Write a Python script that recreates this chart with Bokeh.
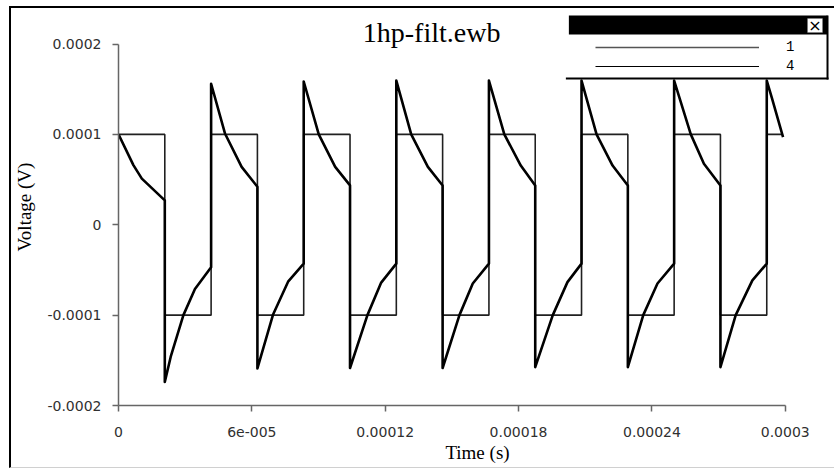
from bokeh.plotting import figure
from bokeh.models import Range1d, FixedTicker, Legend, LegendItem, BoxAnnotation, Label
from bokeh.embed import file_html
from bokeh.resources import INLINE

# ---------------- data ----------------
x_ticks = [0, 6e-5, 1.2e-4, 1.8e-4, 2.4e-4, 3e-4]
x_tick_labels = ["0", "6e-005", "0.00012", "0.00018", "0.00024", "0.0003"]
y_ticks = [-2e-4, -1e-4, 0, 1e-4, 2e-4]
y_tick_labels = ["-0.0002", "-0.0001", "0", "0.0001", "0.0002"]

# trace 1: square-wave input (step times and levels)
sq_t = [0, 2.083e-5, 4.167e-5, 6.25e-5, 8.333e-5, 1.0417e-4, 1.25e-4, 1.4583e-4,
        1.6667e-4, 1.875e-4, 2.0833e-4, 2.2917e-4, 2.5e-4, 2.7083e-4, 2.9167e-4, 2.99e-4]
sq_v = [1e-4, -1e-4, 1e-4, -1e-4, 1e-4, -1e-4, 1e-4, -1e-4,
        1e-4, -1e-4, 1e-4, -1e-4, 1e-4, -1e-4, 1e-4, 1e-4]

# trace 4: high-pass filter output
out_t = [0, 0.67e-5, 1.05e-5, 2.083e-5,
         2.083e-5, 2.35e-5, 2.92e-5, 3.44e-5, 4.167e-5,
         4.167e-5, 4.79e-5, 5.54e-5, 6.25e-5,
         6.25e-5, 6.96e-5, 7.63e-5, 8.333e-5,
         8.333e-5, 9.01e-5, 9.75e-5, 1.0417e-4,
         1.0417e-4, 1.12e-4, 1.182e-4, 1.25e-4,
         1.25e-4, 1.317e-4, 1.392e-4, 1.4583e-4,
         1.4583e-4, 1.534e-4, 1.594e-4, 1.6667e-4,
         1.6667e-4, 1.736e-4, 1.81e-4, 1.875e-4,
         1.875e-4, 1.954e-4, 2.02e-4, 2.0833e-4,
         2.0833e-4, 2.151e-4, 2.223e-4, 2.2917e-4,
         2.2917e-4, 2.361e-4, 2.425e-4, 2.5e-4,
         2.5e-4, 2.575e-4, 2.634e-4, 2.7083e-4,
         2.7083e-4, 2.777e-4, 2.852e-4, 2.9167e-4,
         2.9167e-4, 2.94e-4, 2.99e-4]
out_v = [1.0e-4, 0.66e-4, 0.51e-4, 0.27e-4,
         -1.74e-4, -1.46e-4, -1.0e-4, -0.71e-4, -0.47e-4,
         1.56e-4, 1.01e-4, 0.64e-4, 0.42e-4,
         -1.59e-4, -0.99e-4, -0.63e-4, -0.43e-4,
         1.585e-4, 1.0e-4, 0.64e-4, 0.435e-4,
         -1.585e-4, -1.0e-4, -0.64e-4, -0.43e-4,
         1.595e-4, 1.0e-4, 0.64e-4, 0.435e-4,
         -1.585e-4, -1.0e-4, -0.65e-4, -0.43e-4,
         1.595e-4, 1.0e-4, 0.655e-4, 0.435e-4,
         -1.575e-4, -1.0e-4, -0.635e-4, -0.43e-4,
         1.595e-4, 1.0e-4, 0.655e-4, 0.435e-4,
         -1.575e-4, -1.0e-4, -0.65e-4, -0.43e-4,
         1.595e-4, 1.0e-4, 0.675e-4, 0.435e-4,
         -1.575e-4, -1.0e-4, -0.615e-4, -0.43e-4,
         1.595e-4, 1.4e-4, 0.97e-4]

title_text = "1hp-filt.ewb"
x_label = "Time (s)"
y_label = "Voltage (V)"
legend_labels = ["1", "4"]

# ---------------- layout helpers (page pixels -> data) ----------------
CANVAS_LEFT_PX, CANVAS_TOP_PX = 11, 8
FIG_W, FIG_H = 825, 462
X0_PX, X1_PX = 117.0, 784.7      # page px of t=0 and t=3e-4
YB_PX, YT_PX = 405.0, 43.5       # page px of -2e-4 and 2e-4
FRAME_RIGHT_PX = CANVAS_LEFT_PX + FIG_W
FRAME_TOP_PX = CANVAS_TOP_PX
SX = (X1_PX - X0_PX) / 3e-4
SY = (YB_PX - YT_PX) / 4e-4


def px2x(px):
    return (px - X0_PX) / SX


def px2y(py):
    return -2e-4 + (YB_PX - py) / SY


X_END = px2x(FRAME_RIGHT_PX)
Y_END = px2y(FRAME_TOP_PX)

p = figure(width=FIG_W, height=FIG_H, output_backend="svg", toolbar_location=None,
           x_range=Range1d(0, X_END), y_range=Range1d(-2e-4, Y_END),
           min_border_left=int(X0_PX - CANVAS_LEFT_PX), min_border_right=0, min_border_top=0,
           min_border_bottom=int(CANVAS_TOP_PX + FIG_H - YB_PX), background_fill_color="white",
           border_fill_color="white", outline_line_color=None)
p.styles = {"margin-left": "9px", "margin-top": "6px",
            "border-left": "2px solid #000000", "border-top": "2px solid #000000",
            "border-bottom": "1px solid #d0d0d0"}
p.grid.visible = False

for ax, ticks, labels, bounds, lab in ((p.xaxis[0], x_ticks, x_tick_labels, (0, 3e-4), x_label),
                                       (p.yaxis[0], y_ticks, y_tick_labels, (-2e-4, 2e-4), y_label)):
    ax.ticker = FixedTicker(ticks=ticks)
    ax.major_label_overrides = {t: l for t, l in zip(ticks, labels)}
    ax.bounds = bounds
    ax.axis_label = lab
    ax.axis_line_color = "#666666"
    ax.axis_line_width = 1.5
    ax.major_tick_line_color = "#666666"
    ax.major_tick_line_width = 1.5
    ax.major_tick_out = 6
    ax.major_tick_in = 0
    ax.minor_tick_line_color = None
    ax.major_label_text_font = "DejaVu Sans"
    ax.major_label_text_font_size = "14px"
    ax.major_label_text_color = "#303030"
    ax.axis_label_text_font = "Liberation Serif"
    ax.axis_label_text_font_size = "19px"
    ax.axis_label_text_font_style = "normal"
    ax.axis_label_text_color = "#000000"

p.yaxis.major_label_standoff = 11
p.yaxis.axis_label_standoff = 9
p.xaxis.major_label_standoff = 15
p.xaxis.axis_label_standoff = 2

p.step(sq_t, sq_v, mode="after", line_color="#202020", line_width=1.6)
p.line(out_t, out_v, line_color="#000000", line_width=2.6, line_join="round")

# legend (thin sample lines, like the original window)
nan = float("nan")
r1 = p.line([nan], [nan], line_color="#555555", line_width=1.5)
r4 = p.line([nan], [nan], line_color="#000000", line_width=1.2)
legend = Legend(items=[LegendItem(label=legend_labels[0], renderers=[r1]),
                       LegendItem(label=legend_labels[1], renderers=[r4])],
                location=(594 - X0_PX, YB_PX - 74), orientation="vertical",
                glyph_width=164, glyph_height=16, label_height=16, label_standoff=27,
                spacing=3, padding=4, margin=0, border_line_color=None,
                background_fill_color="white", background_fill_alpha=1.0,
                label_text_font="Liberation Mono", label_text_font_size="14px",
                label_text_color="#000000")
p.add_layout(legend)

# legend window decoration: title bar, close button, edges
p.add_layout(BoxAnnotation(left=px2x(568), right=px2x(827), top=px2y(15), bottom=px2y(34),
                           fill_color="black", fill_alpha=1, line_color=None))
p.add_layout(BoxAnnotation(left=px2x(826), right=px2x(828), top=px2y(15), bottom=px2y(79),
                           fill_color="black", fill_alpha=1, line_color=None))
p.add_layout(BoxAnnotation(left=px2x(565), right=px2x(828), top=px2y(77), bottom=px2y(79),
                           fill_color="black", fill_alpha=1, line_color=None))
p.add_layout(BoxAnnotation(left=px2x(807), right=px2x(822), top=px2y(18), bottom=px2y(32),
                           fill_color="white", fill_alpha=1, line_color="#888888", line_width=1))
p.add_layout(Label(x=px2x(814.5), y=px2y(25), text="\u00d7", text_align="center",
                   text_baseline="middle", text_font="DejaVu Sans", text_font_size="16px",
                   text_color="black"))

p.add_layout(Label(x=px2x(430.5), y=px2y(32), text=title_text, text_align="center",
                   text_baseline="alphabetic", text_font="Liberation Serif",
                   text_font_size="28px", text_color="black"))

open("out.html", "w").write(file_html(p, INLINE))
